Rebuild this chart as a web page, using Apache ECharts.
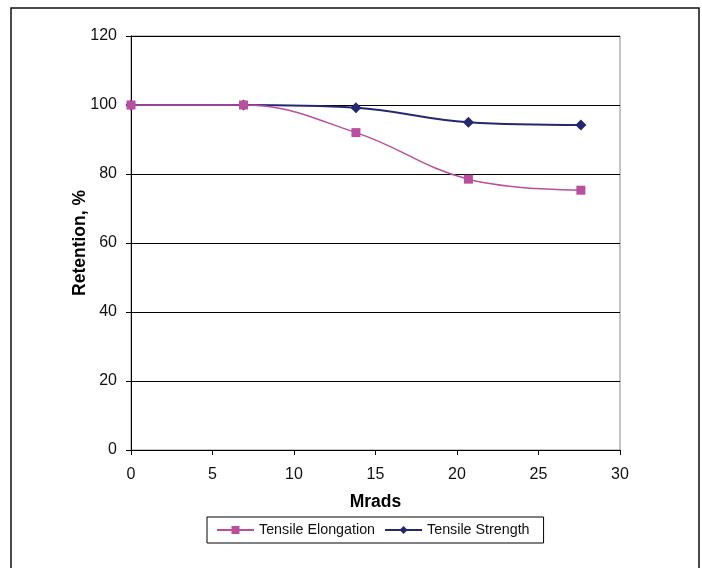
<!DOCTYPE html>
<html>
<head>
<meta charset="utf-8">
<script src="https://cdn.jsdelivr.net/npm/echarts@6/dist/echarts.min.js"></script>
<style>
  html, body { margin: 0; padding: 0; background: #fff; }
  #chart { width: 702px; height: 568px; }
</style>
</head>
<body>
<div id="chart"></div>
<script>
// Radiation dose (Mrads) vs. property retention (%)
const mrads = [0, 6.9, 13.8, 20.7, 27.6];
const elongation = [100, 100, 92, 78.5, 75.3];
const strength = [100, 100, 99.2, 95, 94.2];
const xTicks = [0, 5, 10, 15, 20, 25, 30];
const yTicks = [0, 20, 40, 60, 80, 100, 120];

const FONT = "'Liberation Sans', Arial, sans-serif";
const PINK = '#BA4F9F';
const NAVY = '#25276F';

const chart = echarts.init(document.getElementById('chart'), null, { renderer: 'canvas' });

const pairs = (ys) => mrads.map((x, i) => [x, ys[i]]);

chart.setOption({
  animation: false,
  backgroundColor: '#fff',
  textStyle: { fontFamily: FONT },
  graphic: [{
    type: 'rect',
    shape: { x: 11, y: 8, width: 688, height: 620 },
    style: { fill: 'none', stroke: '#111', lineWidth: 1.5 },
    z: -1
  }],
  grid: {
    left: 131, right: 82, top: 36, bottom: 118,
    show: true, borderColor: '#8a8a8a', borderWidth: 1, backgroundColor: 'transparent'
  },
  xAxis: {
    type: 'value',
    min: xTicks[0], max: xTicks[xTicks.length - 1], interval: xTicks[1] - xTicks[0],
    name: 'Mrads', nameLocation: 'middle', nameGap: 43, nameMoveOverlap: false,
    nameTextStyle: { fontFamily: FONT, fontSize: 17.5, fontWeight: 'bold', color: '#000' },
    axisLine: { show: true, onZero: false, lineStyle: { color: '#000', width: 1 } },
    axisTick: { show: true, inside: false, length: 5, lineStyle: { color: '#000' } },
    axisLabel: { margin: 17, fontFamily: FONT, fontSize: 16, color: '#111' },
    splitLine: { show: false }
  },
  yAxis: {
    type: 'value',
    min: yTicks[0], max: yTicks[yTicks.length - 1], interval: yTicks[1] - yTicks[0],
    name: 'Retention, %', nameLocation: 'middle', nameGap: 42, nameRotate: 90, nameMoveOverlap: false,
    nameTextStyle: { fontFamily: FONT, fontSize: 17.5, fontWeight: 'bold', color: '#000' },
    axisLine: { show: true, lineStyle: { color: '#000', width: 1 } },
    axisTick: { show: true, inside: false, length: 5, lineStyle: { color: '#000' } },
    axisLabel: { margin: 14, fontFamily: FONT, fontSize: 16, color: '#111' },
    splitLine: { show: true, lineStyle: { color: '#000', width: 1 } }
  },
  legend: {
    left: 207, top: 517,
    orient: 'horizontal',
    padding: [6, 14, 6, 9],
    borderColor: '#000', borderWidth: 1,
    itemWidth: 37, itemHeight: 10, itemGap: 9,
    textStyle: { fontFamily: FONT, fontSize: 14.3, color: '#111' },
    data: ['Tensile Elongation', 'Tensile Strength']
  },
  series: [
    {
      name: 'Tensile Elongation',
      type: 'line',
      data: pairs(elongation),
      smooth: 0.4,
      symbol: 'rect', symbolSize: 9,
      lineStyle: { color: PINK, width: 1.5 },
      itemStyle: { color: PINK },
      z: 3
    },
    {
      name: 'Tensile Strength',
      type: 'line',
      data: pairs(strength),
      smooth: 0.4,
      symbol: 'diamond', symbolSize: 11,
      lineStyle: { color: NAVY, width: 1.8 },
      itemStyle: { color: NAVY },
      z: 2
    }
  ]
});
</script>
</body>
</html>
